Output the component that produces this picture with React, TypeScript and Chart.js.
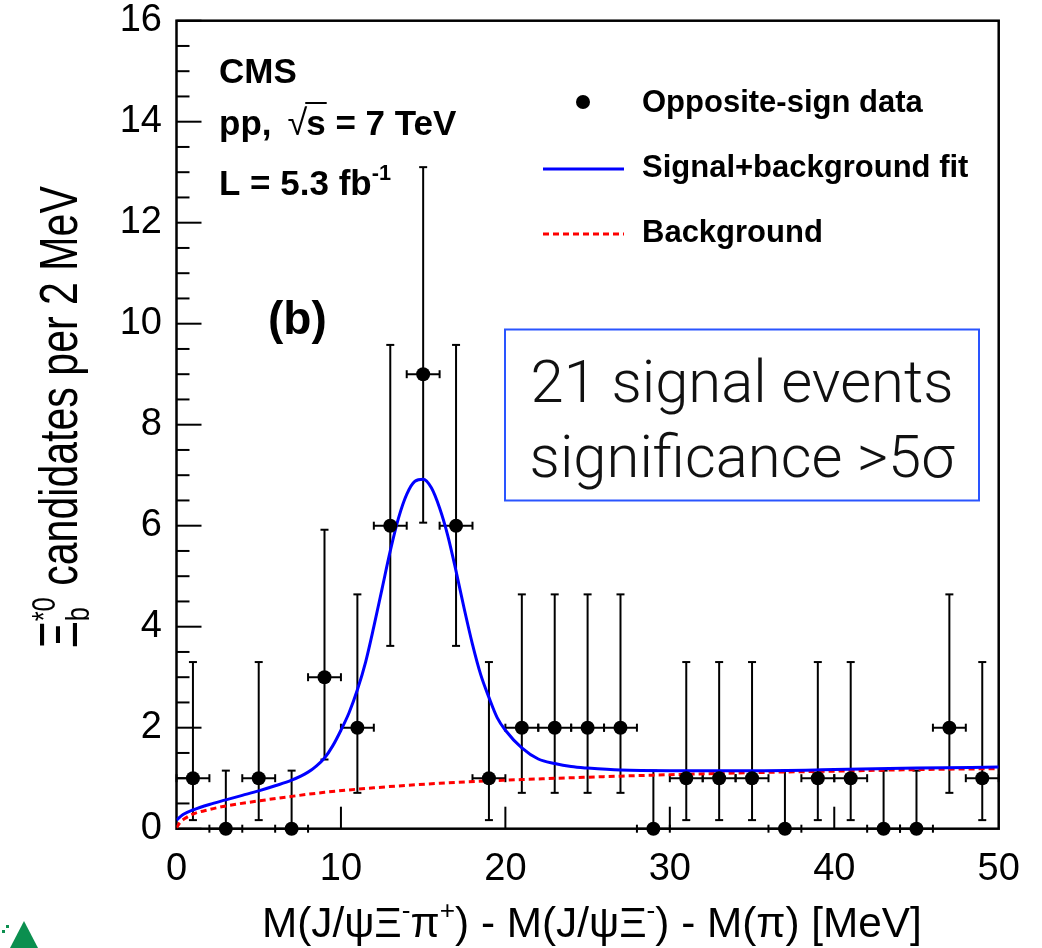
import React, { useEffect, useRef } from "react";
import { Chart, registerables } from "chart.js";

Chart.register(...registerables);

// Centres of the 2 MeV bins and the candidate counts in each bin
const binCenters = [1, 3, 5, 7, 9, 11, 13, 15, 17, 19, 21, 23, 25, 27, 29, 31, 33, 35, 37, 39, 41, 43, 45, 47, 49];
const counts = [1, 0, 1, 0, 3, 2, 6, 9, 6, 1, 2, 2, 2, 2, 0, 1, 1, 1, 0, 1, 1, 0, 0, 2, 1];
// Lower / upper ends of the Poisson error bars
const errLow = [0.17, 0, 0.17, 0, 1.37, 0.71, 3.62, 6.06, 3.62, 0.17, 0.71, 0.71, 0.71, 0.71, 0, 0.17, 0.17, 0.17, 0, 0.17, 0.17, 0, 0, 0.71, 0.17];
const errHigh = [3.3, 1.15, 3.3, 1.15, 5.92, 4.64, 9.58, 13.1, 9.58, 3.3, 4.64, 4.64, 4.64, 4.64, 1.15, 3.3, 3.3, 3.3, 1.15, 3.3, 3.3, 1.15, 1.15, 4.64, 3.3];
const binHalfWidth = 1;

// Signal+background fit curve
const fitX = [0, 0.4, 1, 2, 3, 4, 5, 6, 7, 8, 8.5, 9, 9.5, 10, 10.5, 11, 11.5, 12, 12.5, 13, 13.5, 14, 14.5, 15, 15.5, 16, 16.5, 17, 17.5, 18, 18.5, 19, 19.5, 20, 21, 22, 23, 24, 25, 27, 30, 35, 40, 45, 50];
const fitY = [0.17, 0.28, 0.37, 0.48, 0.57, 0.66, 0.75, 0.85, 0.96, 1.12, 1.24, 1.4, 1.64, 1.95, 2.3, 2.75, 3.3, 4.0, 4.75, 5.5, 6.15, 6.62, 6.88, 6.92, 6.75, 6.35, 5.8, 5.1, 4.35, 3.65, 3.05, 2.6, 2.2, 1.95, 1.6, 1.38, 1.29, 1.23, 1.2, 1.16, 1.15, 1.15, 1.17, 1.2, 1.22];

// Background component of the fit
const bgX = [0, 0.2, 0.5, 1, 2, 3, 5, 7, 9, 12, 16, 20, 25, 30, 35, 40, 45, 50];
const bgY = [0.02, 0.12, 0.2, 0.29, 0.38, 0.45, 0.55, 0.64, 0.72, 0.81, 0.9, 0.96, 1.02, 1.07, 1.11, 1.14, 1.17, 1.19];

const legendLabels = ["Opposite-sign data", "Signal+background fit", "Background"];

const FONT = '"Liberation Sans", Arial, Helvetica, sans-serif';

type Part = { t?: string; sup?: string; sub?: string };

function richWidth(ctx: CanvasRenderingContext2D, parts: Part[], size: number, weight: string) {
  let w = 0;
  for (const p of parts) {
    if (p.t) {
      ctx.font = `${weight} ${size}px ${FONT}`;
      w += ctx.measureText(p.t).width;
    } else {
      ctx.font = `${weight} ${size * 0.62}px ${FONT}`;
      w += Math.max(p.sup ? ctx.measureText(p.sup).width : 0, p.sub ? ctx.measureText(p.sub).width : 0);
    }
  }
  return w;
}

function drawRich(ctx: CanvasRenderingContext2D, parts: Part[], x: number, y: number, size: number, weight: string) {
  let cx = x;
  for (const p of parts) {
    if (p.t) {
      ctx.font = `${weight} ${size}px ${FONT}`;
      ctx.fillText(p.t, cx, y);
      cx += ctx.measureText(p.t).width;
    } else {
      ctx.font = `${weight} ${size * 0.62}px ${FONT}`;
      let w = 0;
      if (p.sup) {
        ctx.fillText(p.sup, cx, y - size * 0.42);
        w = Math.max(w, ctx.measureText(p.sup).width);
      }
      if (p.sub) {
        ctx.fillText(p.sub, cx, y + size * 0.22);
        w = Math.max(w, ctx.measureText(p.sub).width);
      }
      cx += w;
    }
  }
  return cx - x;
}

function seg(ctx: CanvasRenderingContext2D, x1: number, y1: number, x2: number, y2: number) {
  ctx.beginPath();
  ctx.moveTo(x1, y1);
  ctx.lineTo(x2, y2);
  ctx.stroke();
}

const framePlugin = {
  id: "frameAndErrors",
  beforeDatasetsDraw(chart: any) {
    const { ctx, chartArea: a } = chart;
    const xs = chart.scales.x;
    const ys = chart.scales.y;
    ctx.save();
    ctx.strokeStyle = "#000";
    ctx.lineWidth = 2.5;
    ctx.strokeRect(a.left, a.top, a.right - a.left, a.bottom - a.top);

    // y ticks: major every 2, minor every 0.5
    ctx.lineWidth = 2;
    for (let v = 0; v <= 16; v += 0.5) {
      const py = ys.getPixelForValue(v);
      const len = v % 2 === 0 ? 25 : 13;
      seg(ctx, a.left, py, a.left + len, py);
    }
    // x ticks every 10
    for (let v = 10; v < 50; v += 10) {
      const px = xs.getPixelForValue(v);
      seg(ctx, px, a.bottom, px, a.bottom - 22);
    }

    // error bars of the data points
    ctx.lineWidth = 2;
    binCenters.forEach((c, i) => {
      const px = xs.getPixelForValue(c);
      const py = ys.getPixelForValue(counts[i]);
      const lo = ys.getPixelForValue(errLow[i]);
      const hi = ys.getPixelForValue(errHigh[i]);
      const xl = xs.getPixelForValue(c - binHalfWidth);
      const xr = xs.getPixelForValue(c + binHalfWidth);
      seg(ctx, px, lo, px, hi);
      seg(ctx, px - 4, hi, px + 4, hi);
      seg(ctx, px - 4, lo, px + 4, lo);
      seg(ctx, xl, py, xr, py);
      seg(ctx, xl, py - 4, xl, py + 4);
      seg(ctx, xr, py - 4, xr, py + 4);
    });
    ctx.restore();
  },
  afterDraw(chart: any) {
    const { ctx } = chart;
    ctx.save();
    ctx.fillStyle = "#000";
    ctx.textBaseline = "alphabetic";
    ctx.textAlign = "left";

    // experiment labels
    ctx.font = `bold 35px ${FONT}`;
    ctx.fillText("CMS", 219, 83);
    ctx.fillText("pp,", 219, 135);
    const ppEnd = 219 + ctx.measureText("pp,").width;
    const sqrtX = ppEnd + 16;
    ctx.font = `normal 36px ${FONT}`;
    ctx.fillText("\u221A", sqrtX, 135);
    const sqrtW = ctx.measureText("\u221A").width;
    ctx.font = `bold 35px ${FONT}`;
    const sX = sqrtX + sqrtW - 1;
    ctx.fillText("s", sX, 135);
    const sW = ctx.measureText("s").width;
    ctx.lineWidth = 2;
    ctx.strokeStyle = "#000";
    seg(ctx, sqrtX + sqrtW - 2, 103, sX + sW + 1, 103);
    ctx.fillText(" = 7 TeV", sX + sW, 135);
    drawRich(ctx, [{ t: "L = 5.3 fb" }, { sup: "-1" }], 219, 195, 35, "bold");

    ctx.font = `bold 46px ${FONT}`;
    ctx.fillText("(b)", 268, 334);

    // legend
    ctx.beginPath();
    ctx.arc(583, 102, 7, 0, Math.PI * 2);
    ctx.fill();
    ctx.lineWidth = 3;
    ctx.strokeStyle = "#0000ff";
    seg(ctx, 543, 169, 624, 169);
    ctx.lineWidth = 3;
    ctx.strokeStyle = "#ff0000";
    ctx.setLineDash([6, 4]);
    seg(ctx, 543, 234, 624, 234);
    ctx.setLineDash([]);
    ctx.font = `bold 31px ${FONT}`;
    ctx.fillText(legendLabels[0], 642, 112);
    ctx.fillText(legendLabels[1], 642, 177);
    ctx.fillText(legendLabels[2], 642, 242);

    // annotation box
    ctx.strokeStyle = "#2a55ff";
    ctx.lineWidth = 2;
    ctx.strokeRect(505, 329.5, 474, 171);
    const l1 = "21 signal events";
    const l2 = "significance >5\u03C3";
    ctx.font = `300 56px Roboto, ${FONT}`;
    const size = (56 * 423) / ctx.measureText(l1).width;
    ctx.font = `300 ${size}px Roboto, ${FONT}`;
    ctx.fillStyle = "#111";
    ctx.textAlign = "center";
    ctx.fillText(l1, 742, 402);
    ctx.fillText(l2, 742, 477);
    ctx.textAlign = "left";
    ctx.fillStyle = "#000";

    // x axis title
    const xParts: Part[] = [
      { t: "M(J/\u03C8\u039E" }, { sup: "-" }, { t: "\u03C0" }, { sup: "+" },
      { t: ") - M(J/\u03C8\u039E" }, { sup: "-" }, { t: ") - M(\u03C0) [MeV]" },
    ];
    const xw = richWidth(ctx, xParts, 40, "normal");
    const xsz = (40 * 660) / xw;
    drawRich(ctx, xParts, 262, 937, xsz, "normal");

    // y axis title (glyphs drawn taller across the text direction)
    const yParts: Part[] = [{ t: "\u039E" }, { sup: "*0", sub: "b" }, { t: " candidates per 2 MeV" }];
    const yw = richWidth(ctx, yParts, 40, "normal");
    const ysz = (40 * 462) / yw;
    ctx.translate(77, 648);
    ctx.rotate(-Math.PI / 2);
    ctx.scale(1, 1.3);
    drawRich(ctx, yParts, 0, 0, ysz, "normal");
    ctx.restore();

    // corner logo fragment
    ctx.save();
    ctx.fillStyle = "#0b8f4f";
    ctx.beginPath();
    ctx.moveTo(10, 948);
    ctx.lineTo(24, 921);
    ctx.lineTo(38, 948);
    ctx.closePath();
    ctx.fill();
    ctx.fillRect(2, 930, 3, 3);
    ctx.fillRect(6, 925, 3, 3);
    ctx.restore();
  },
};

export default function App() {
  const ref = useRef<HTMLCanvasElement>(null);

  useEffect(() => {
    const canvas = ref.current;
    if (!canvas) return;
    const points = binCenters.map((x, i) => ({ x, y: counts[i] }));
    const fit = fitX.map((x, i) => ({ x, y: fitY[i] }));
    const bg = bgX.map((x, i) => ({ x, y: bgY[i] }));
    const tickFont = { family: FONT, size: 38, lineHeight: 1 };

    const chart = new Chart(canvas, {
      type: "scatter",
      data: {
        datasets: [
          {
            label: legendLabels[0],
            data: points,
            pointRadius: 7,
            pointHoverRadius: 7,
            backgroundColor: "#000",
            borderColor: "#000",
            borderWidth: 0,
            showLine: false,
            clip: false,
            order: 0,
          } as any,
          {
            label: legendLabels[1],
            data: fit,
            showLine: true,
            borderColor: "#0000ff",
            backgroundColor: "#0000ff",
            borderWidth: 3,
            pointRadius: 0,
            cubicInterpolationMode: "monotone",
            fill: false,
            order: 1,
          } as any,
          {
            label: legendLabels[2],
            data: bg,
            showLine: true,
            borderColor: "#ff0000",
            backgroundColor: "#ff0000",
            borderWidth: 3,
            borderDash: [6, 4],
            pointRadius: 0,
            cubicInterpolationMode: "monotone",
            fill: false,
            order: 2,
          } as any,
        ],
      },
      options: {
        responsive: false,
        animation: false,
        devicePixelRatio: 1,
        events: [],
        layout: { padding: { top: 20.7, right: 43.3, left: 0, bottom: 0 } },
        plugins: {
          legend: { display: false },
          tooltip: { enabled: false },
          title: { display: false },
        },
        scales: {
          x: {
            type: "linear",
            position: "bottom",
            min: 0,
            max: 50,
            grid: { display: false, drawTicks: false },
            border: { display: false },
            ticks: { stepSize: 10, color: "#000", font: tickFont, padding: 22, maxRotation: 0, autoSkip: false },
            afterFit: (s: any) => {
              s.height = 119.3;
              s.paddingLeft = 0;
              s.paddingRight = 0;
            },
          },
          y: {
            type: "linear",
            position: "left",
            min: 0,
            max: 16,
            grid: { display: false, drawTicks: false },
            border: { display: false },
            ticks: { stepSize: 2, color: "#000", font: tickFont, padding: 14.5, autoSkip: false },
            afterFit: (s: any) => {
              s.width = 176.5;
              s.paddingTop = 0;
              s.paddingBottom = 0;
            },
          },
        },
      } as any,
      plugins: [framePlugin],
    });
    return () => chart.destroy();
  }, []);

  return (
    <div style={{ position: "absolute", left: 0, top: 0, width: 1042, height: 948, background: "#fff", overflow: "hidden" }}>
      <canvas ref={ref} width={1042} height={948} style={{ display: "block", width: 1042, height: 948 }} />
    </div>
  );
}
